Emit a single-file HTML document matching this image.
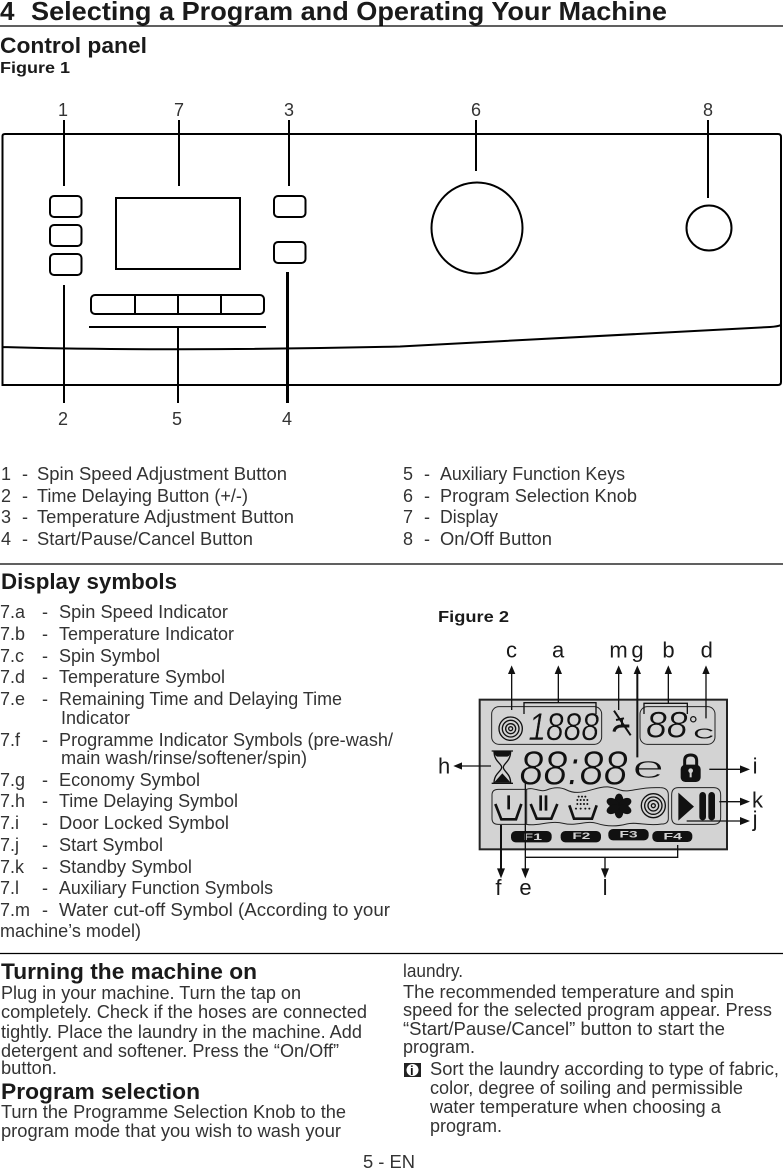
<!DOCTYPE html>
<html><head><meta charset="utf-8"><style>
html,body{margin:0;padding:0;background:#fff}
svg{display:block}
text{font-family:"Liberation Sans",sans-serif;fill:#333;font-size:18px}
.b{font-weight:bold;fill:#1a1a1a}
.l{stroke:#000;fill:none}
.t{font-size:66px;fill:#1a1a1a}
.d{font-style:italic;fill:#111;stroke:#d3d3d3}
.f{font-size:28px;font-weight:bold;fill:#d3d3d3}
</style></head><body>
<svg xmlns="http://www.w3.org/2000/svg" width="783" height="1169" viewBox="0 0 783 1169">
<rect width="783" height="1169" fill="#fff"/>
<text class="b" x="0" y="20" style="font-size:26px">4</text>
<text class="b" x="31" y="20" style="font-size:26px" textLength="636" lengthAdjust="spacingAndGlyphs">Selecting a Program and Operating Your Machine</text>
<path class="l" stroke-width="1.3" d="M0 26H783M0 564H783M0 953.500H783"/>
<text class="b" x="0" y="53" style="font-size:22px" textLength="147" lengthAdjust="spacingAndGlyphs">Control panel</text>
<text class="b" x="0" y="73" style="font-size:16px" textLength="70" lengthAdjust="spacingAndGlyphs">Figure 1</text>

<!-- panel -->
<path class="l" stroke-width="2" d="M2.500 136Q2.500 134 5 134H778Q781 134 781 137V382Q781 385 778 385H2.500ZM2.500 347C100 350 250 350 400 346.500L770 327Q778 326.500 781 325"/>
<path class="l" stroke-width="2" d="M64 120V186M179 120V186M289 120V186M476 120V171M708 120V198M64 285V403M178 327V403M89 327H266"/>
<path class="l" stroke-width="3" d="M287.500 272V403"/>
<g class="l" stroke-width="2">
<rect x="50" y="196" width="31.500" height="21" rx="4"/><rect x="50" y="225" width="31.500" height="21" rx="4"/><rect x="50" y="254" width="31.500" height="21" rx="4"/>
<rect x="116" y="198" width="124" height="71"/>
<rect x="274" y="196" width="31.500" height="21" rx="4"/><rect x="274" y="242" width="31.500" height="21" rx="4"/>
<rect x="91" y="295" width="173" height="19" rx="4"/>
<path d="M135 295V314M178 295V314M221 295V314"/>
<circle cx="477" cy="228" r="45.500"/><circle cx="709" cy="228" r="22.500"/>
</g>
<g>
<text x="58" y="116">1</text><text x="174" y="116">7</text><text x="284" y="116">3</text><text x="471" y="116">6</text><text x="703" y="116">8</text>
<text x="58" y="425">2</text><text x="172" y="425">5</text><text x="282" y="425">4</text>
</g>

<text x="1" y="480">1</text><text x="22" y="480">-</text><text x="37" y="480" textLength="250" lengthAdjust="spacingAndGlyphs">Spin Speed Adjustment Button</text>
<text x="1" y="502">2</text><text x="22" y="502">-</text><text x="37" y="502" textLength="211" lengthAdjust="spacingAndGlyphs">Time Delaying Button (+/-)</text>
<text x="1" y="523">3</text><text x="22" y="523">-</text><text x="37" y="523" textLength="257" lengthAdjust="spacingAndGlyphs">Temperature Adjustment Button</text>
<text x="1" y="545">4</text><text x="22" y="545">-</text><text x="37" y="545" textLength="216" lengthAdjust="spacingAndGlyphs">Start/Pause/Cancel Button</text>
<text x="403" y="480">5</text><text x="424" y="480">-</text><text x="440" y="480" textLength="185" lengthAdjust="spacingAndGlyphs">Auxiliary Function Keys</text>
<text x="403" y="502">6</text><text x="424" y="502">-</text><text x="440" y="502" textLength="197" lengthAdjust="spacingAndGlyphs">Program Selection Knob</text>
<text x="403" y="523">7</text><text x="424" y="523">-</text><text x="440" y="523" textLength="58" lengthAdjust="spacingAndGlyphs">Display</text>
<text x="403" y="545">8</text><text x="424" y="545">-</text><text x="440" y="545" textLength="112" lengthAdjust="spacingAndGlyphs">On/Off Button</text>

<text class="b" x="1" y="589" style="font-size:22px" textLength="176" lengthAdjust="spacingAndGlyphs">Display symbols</text>
<text class="b" x="438" y="622" style="font-size:16px" textLength="71" lengthAdjust="spacingAndGlyphs">Figure 2</text>

<g>
<text x="0" y="618">7.a</text><text x="42" y="618">-</text><text x="59" y="618" textLength="169" lengthAdjust="spacingAndGlyphs">Spin Speed Indicator</text>
<text x="0" y="640">7.b</text><text x="42" y="640">-</text><text x="59" y="640" textLength="175" lengthAdjust="spacingAndGlyphs">Temperature Indicator</text>
<text x="0" y="662">7.c</text><text x="42" y="662">-</text><text x="59" y="662" textLength="101" lengthAdjust="spacingAndGlyphs">Spin Symbol</text>
<text x="0" y="683">7.d</text><text x="42" y="683">-</text><text x="59" y="683" textLength="166" lengthAdjust="spacingAndGlyphs">Temperature Symbol</text>
<text x="0" y="705">7.e</text><text x="42" y="705">-</text><text x="59" y="705" textLength="283" lengthAdjust="spacingAndGlyphs">Remaining Time and Delaying Time</text>
<text x="61" y="724" textLength="69" lengthAdjust="spacingAndGlyphs">Indicator</text>
<text x="0" y="746">7.f</text><text x="42" y="746">-</text><text x="59" y="746" textLength="334" lengthAdjust="spacingAndGlyphs">Programme Indicator Symbols (pre-wash/</text>
<text x="61" y="764" textLength="246" lengthAdjust="spacingAndGlyphs">main wash/rinse/softener/spin)</text>
<text x="0" y="786">7.g</text><text x="42" y="786">-</text><text x="59" y="786" textLength="141" lengthAdjust="spacingAndGlyphs">Economy Symbol</text>
<text x="0" y="807">7.h</text><text x="42" y="807">-</text><text x="59" y="807" textLength="179" lengthAdjust="spacingAndGlyphs">Time Delaying Symbol</text>
<text x="0" y="829">7.i</text><text x="42" y="829">-</text><text x="59" y="829" textLength="170" lengthAdjust="spacingAndGlyphs">Door Locked Symbol</text>
<text x="0" y="851">7.j</text><text x="42" y="851">-</text><text x="59" y="851" textLength="104" lengthAdjust="spacingAndGlyphs">Start Symbol</text>
<text x="0" y="873">7.k</text><text x="42" y="873">-</text><text x="59" y="873" textLength="133" lengthAdjust="spacingAndGlyphs">Standby Symbol</text>
<text x="0" y="894">7.l</text><text x="42" y="894">-</text><text x="59" y="894" textLength="214" lengthAdjust="spacingAndGlyphs">Auxiliary Function Symbols</text>
<text x="0" y="916">7.m</text><text x="42" y="916">-</text><text x="59" y="916" textLength="331" lengthAdjust="spacingAndGlyphs">Water cut-off Symbol (According to your</text>
<text x="0" y="937" textLength="141" lengthAdjust="spacingAndGlyphs">machine’s model)</text>
</g>

<!-- Figure 2 in zoom coordinates -->
<g transform="translate(420 630) scale(.33333)">
<rect x="179" y="209" width="742" height="449" fill="#d3d3d3" stroke="#222" stroke-width="6"/>
<g fill="none" stroke="#222" stroke-width="3">
<rect x="215" y="230" width="330" height="113" rx="22"/>
<rect x="660" y="230" width="225" height="113" rx="22"/>
<path d="M320 478H235Q216 478 216 495V565Q216 583 235 583H320M320 478C340 470 360 488 380 480S420 470 440 480 480 490 520 478 570 470 600 480 650 470 720 473Q745 473 745 495V565Q745 582 725 582C680 590 650 574 620 582S560 590 530 580 470 590 430 580 350 590 320 583Z"/>
<path d="M775 473H880Q902 473 902 495V562Q902 583 880 583H775Q755 583 755 562V495Q755 473 775 473Z"/>
</g>
<g fill="none" stroke="#111" stroke-width="4">
<circle cx="272" cy="296" r="6"/><circle cx="272" cy="296" r="15"/><circle cx="272" cy="296" r="25"/><circle cx="272" cy="296" r="35"/>
<circle cx="700" cy="527" r="6"/><circle cx="700" cy="527" r="16"/><circle cx="700" cy="527" r="26"/><circle cx="700" cy="527" r="36"/>
</g>
<text class="d" x="325" y="330" stroke-width="1.500" style="font-size:118px" textLength="212" lengthAdjust="spacingAndGlyphs">1888</text>
<text class="d" x="678" y="323" stroke-width="1.500" style="font-size:112px" textLength="125" lengthAdjust="spacingAndGlyphs">88</text>
<text class="d" x="298" y="463" stroke-width="2.500" style="font-size:146px" textLength="325" lengthAdjust="spacingAndGlyphs">88:88</text>
<text x="806" y="308" style="font-size:70px;fill:#111">°</text>
<text x="820" y="325" style="font-size:44px;fill:#111" textLength="62" lengthAdjust="spacingAndGlyphs">C</text>
<text x="636" y="444" style="font-size:96px;fill:#111;stroke:#d3d3d3;stroke-width:3px" textLength="98" lengthAdjust="spacingAndGlyphs">e</text>
<!-- tap -->
<path fill="none" stroke="#111" stroke-width="6" d="M582 242L632 316M612 265L588 270M606 265V285"/>
<path fill="none" stroke="#111" stroke-width="9" d="M582 305Q585 288 606 288H628"/>
<!-- hourglass -->
<path fill="none" stroke="#111" stroke-width="4" d="M215 363H279M215 460H279M222 363C222 395 245 400 245 412S222 430 222 460M272 363C272 395 250 400 250 412S272 430 272 460"/>
<path fill="#111" d="M222 364H272Q270 378 262 380H232Q224 378 222 364ZM247 430L272 458H222Z"/>
<!-- lock -->
<path fill="none" stroke="#111" stroke-width="9" d="M794 408V392Q794 375 812 375T830 392V408"/>
<rect x="782" y="404" width="60" height="52" rx="14" fill="#111"/>
<circle cx="812" cy="422" r="7" fill="#d3d3d3"/><rect x="809" y="424" width="6" height="18" fill="#d3d3d3"/>
<!-- basins -->
<path fill="none" stroke="#111" stroke-width="8" d="M226 522L244 568H288L304 522M332 522L350 566H394L412 522M448 526L462 566H516L530 526"/>
<path fill="none" stroke="#111" stroke-width="8" d="M266 496V538M362 496V542M378 496V542"/>
<g fill="#111"><circle cx="476" cy="500" r="3"/><circle cx="486" cy="500" r="3"/><circle cx="496" cy="500" r="3"/><circle cx="472" cy="510" r="3"/><circle cx="482" cy="510" r="3"/><circle cx="492" cy="510" r="3"/><circle cx="502" cy="510" r="3"/><circle cx="472" cy="522" r="3"/><circle cx="482" cy="522" r="3"/><circle cx="492" cy="522" r="3"/><circle cx="502" cy="522" r="3"/><circle cx="468" cy="536" r="3"/><circle cx="482" cy="536" r="3"/><circle cx="496" cy="536" r="3"/><circle cx="508" cy="536" r="3"/>
<ellipse cx="597" cy="510" rx="13" ry="19"/><ellipse cx="597" cy="546" rx="13" ry="19"/><ellipse cx="578" cy="518" rx="19" ry="13" transform="rotate(25 578 518)"/><ellipse cx="616" cy="518" rx="19" ry="13" transform="rotate(-25 616 518)"/><ellipse cx="578" cy="538" rx="19" ry="13" transform="rotate(-25 578 538)"/><ellipse cx="616" cy="538" rx="19" ry="13" transform="rotate(25 616 538)"/>
<path d="M775 488L822 530L775 572Z"/>
<rect x="838" y="486" width="20" height="85" rx="10"/><rect x="865" y="486" width="20" height="85" rx="10"/>
<rect x="273" y="603" width="122" height="34" rx="14"/><rect x="422" y="603" width="121" height="34" rx="14"/><rect x="565" y="597" width="121" height="34" rx="14"/><rect x="697" y="603" width="120" height="33" rx="14"/></g>
<text class="f" x="310" y="630" textLength="56" lengthAdjust="spacingAndGlyphs">F1</text>
<text class="f" x="457" y="627" textLength="54" lengthAdjust="spacingAndGlyphs">F2</text>
<text class="f" x="598" y="622" textLength="55" lengthAdjust="spacingAndGlyphs">F3</text>
<text class="f" x="730" y="628" textLength="56" lengthAdjust="spacingAndGlyphs">F4</text>
<!-- leaders -->
<path fill="none" stroke="#111" stroke-width="4" d="M275 240V125M312 252V218H528V252M415 218V125M596 240V125M672 252V220H802V252M745 220V125M858 265V125M213 408H115M868 418H965M898 515H965M800 573H965M316 645V682H773V645M555 682V725M316 455V725"/>
<path fill="none" stroke="#111" stroke-width="6" d="M652 382V125M243 585V725"/>
<path fill="#111" d="M275 106L264 132H286ZM415 106L404 132H426ZM596 106L585 132H607ZM652 106L641 132H663ZM745 106L734 132H756ZM858 106L847 132H869ZM100 408L126 397V419ZM990 418L960 406V430ZM990 515L960 503V527ZM990 573L960 561V585ZM243 745L231 715H255ZM316 745L304 715H328ZM555 745L543 715H567Z"/>
<text class="t" x="258" y="82">c</text>
<text class="t" x="396" y="82">a</text>
<text class="t" x="568" y="82">m</text>
<text class="t" x="634" y="82">g</text>
<text class="t" x="727" y="82">b</text>
<text class="t" x="842" y="82">d</text>
<text class="t" x="54" y="430">h</text>
<text class="t" x="998" y="430">i</text>
<text class="t" x="996" y="533">k</text>
<text class="t" x="998" y="590">j</text>
<text class="t" x="226" y="795">f</text>
<text class="t" x="298" y="795">e</text>
<text class="t" x="548" y="795">l</text>
</g>

<!-- bottom text -->
<text class="b" x="1" y="979" style="font-size:22px" textLength="256" lengthAdjust="spacingAndGlyphs">Turning the machine on</text>
<text x="1" y="999" textLength="300" lengthAdjust="spacingAndGlyphs">Plug in your machine. Turn the tap on</text>
<text x="1" y="1018" textLength="366" lengthAdjust="spacingAndGlyphs">completely. Check if the hoses are connected</text>
<text x="1" y="1038" textLength="361" lengthAdjust="spacingAndGlyphs">tightly. Place the laundry in the machine. Add</text>
<text x="1" y="1057" textLength="338" lengthAdjust="spacingAndGlyphs">detergent and softener. Press the “On/Off”</text>
<text x="1" y="1074" textLength="56" lengthAdjust="spacingAndGlyphs">button.</text>
<text class="b" x="1" y="1099" style="font-size:22px" textLength="199" lengthAdjust="spacingAndGlyphs">Program selection</text>
<text x="1" y="1118" textLength="345" lengthAdjust="spacingAndGlyphs">Turn the Programme Selection Knob to the</text>
<text x="1" y="1137" textLength="340" lengthAdjust="spacingAndGlyphs">program mode that you wish to wash your</text>
<text x="403" y="977" textLength="60" lengthAdjust="spacingAndGlyphs">laundry.</text>
<text x="403" y="998" textLength="331" lengthAdjust="spacingAndGlyphs">The recommended temperature and spin</text>
<text x="403" y="1016" textLength="369" lengthAdjust="spacingAndGlyphs">speed for the selected program appear. Press</text>
<text x="403" y="1035" textLength="322" lengthAdjust="spacingAndGlyphs">“Start/Pause/Cancel” button to start the</text>
<text x="403" y="1053" textLength="72" lengthAdjust="spacingAndGlyphs">program.</text>
<rect x="404" y="1063" width="17" height="14" fill="#222"/>
<circle cx="412.500" cy="1070" r="6" fill="#fff"/><text x="410" y="1075" style="font-size:13px;font-weight:bold;fill:#111">i</text>
<text x="430" y="1075" textLength="349" lengthAdjust="spacingAndGlyphs">Sort the laundry according to type of fabric,</text>
<text x="430" y="1094" textLength="313" lengthAdjust="spacingAndGlyphs">color, degree of soiling and permissible</text>
<text x="430" y="1113" textLength="291" lengthAdjust="spacingAndGlyphs">water temperature when choosing a</text>
<text x="430" y="1132" textLength="72" lengthAdjust="spacingAndGlyphs">program.</text>
<text x="363" y="1168" textLength="52" lengthAdjust="spacingAndGlyphs">5 - EN</text>
</svg>
</body></html>
